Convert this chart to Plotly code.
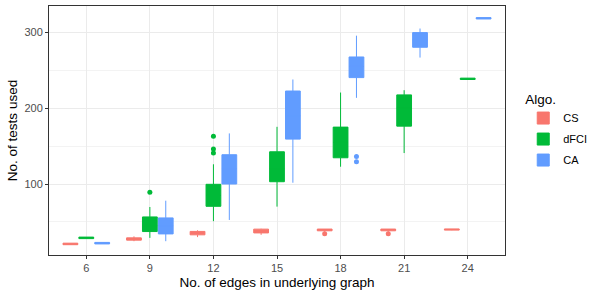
import plotly.graph_objects as go

edges = [6, 9, 12, 15, 18, 21, 24]
algos = ["CS", "dFCI", "CA"]
colors = {"CS": "#F8766D", "dFCI": "#00BA38", "CA": "#619CFF"}

# five-number summaries
cs_lower = [20, 24.6, 30, 33, 37, 37, 39]
cs_q1 = [20, 26, 33, 35.5, 38.3, 38.3, 39.2]
cs_median = [21, 27.5, 35, 38, 40, 40, 40]
cs_q3 = [22, 29, 37.5, 40.5, 40.6, 40.6, 40.8]
cs_upper = [22, 31, 39, 41, 40.6, 40.6, 40.8]
cs_outliers = [[], [], [], [], [34.5], [34.5], []]

dfci_lower = [28, 29, 51, 70.2, 122.8, 140.8, 237.8]
dfci_q1 = [28, 37.3, 70.6, 103, 134.6, 176.3, 237.8]
dfci_median = [29, 45, 85, 120, 155, 200, 238.6]
dfci_q3 = [30, 56.6, 99.6, 142.5, 175, 217.5, 239.6]
dfci_upper = [30, 69.7, 126, 175.4, 220.6, 223.7, 239.6]
dfci_outliers = [[], [89], [141, 146, 163], [], [], [], []]

ca_lower = [21, 24.6, 52.6, 101.7, 213.6, 266.7, 317.6]
ca_q1 = [21, 34.2, 100, 159.2, 240.3, 280.3, 317.6]
ca_median = [22, 45, 120, 190, 255, 290, 318.4]
ca_q3 = [23, 55.3, 138.6, 222.6, 267.5, 299.6, 319.4]
ca_upper = [23, 78, 166.7, 237.8, 295.6, 305, 319.4]
ca_outliers = [[], [], [], [], [129.4, 136.4], [], []]

stats = {
    "CS": (cs_lower, cs_q1, cs_median, cs_q3, cs_upper, cs_outliers),
    "dFCI": (dfci_lower, dfci_q1, dfci_median, dfci_q3, dfci_upper, dfci_outliers),
    "CA": (ca_lower, ca_q1, ca_median, ca_q3, ca_upper, ca_outliers),
}

x_ticks = [6, 9, 12, 15, 18, 21, 24]
y_ticks = [100, 200, 300]

font = "Liberation Sans, Arial, sans-serif"

fig = go.Figure()
for a in algos:
    lo, q1, med, q3, up, outl = stats[a]
    # per-box sample points: the five summary values plus the outliers
    samples = [[lo[i], q1[i], med[i], q3[i], up[i]] + list(outl[i]) for i in range(len(edges))]
    fig.add_trace(go.Box(
        name=a,
        legendgroup=a,
        x=edges,
        y=samples,
        q1=q1, median=med, q3=q3,
        lowerfence=lo, upperfence=up,
        boxpoints="outliers",
        fillcolor=colors[a],
        line=dict(color=colors[a], width=1),
        marker=dict(color=colors[a], size=5),
        whiskerwidth=0,
        offsetgroup=a,
    ))

grid = "#ebebeb"
fig.update_layout(
    width=598, height=296,
    margin=dict(l=49, r=88, t=6, b=41),
    paper_bgcolor="white", plot_bgcolor="white",
    boxmode="group", boxgap=0.25, boxgroupgap=0.07,
    font=dict(family=font, color="black"),
    legend=dict(
        title=dict(text="Algo.", font=dict(size=13.5)),
        font=dict(size=11),
        x=1.04, xanchor="left", y=0.50, yanchor="middle",
        tracegroupgap=2,
    ),
    xaxis=dict(
        range=[4.24, 25.76],
        tickvals=x_ticks, ticktext=[str(v) for v in x_ticks],
        showgrid=True, gridcolor=grid, gridwidth=1,
        zeroline=False,
        showline=True, linecolor="#333333", linewidth=1, mirror=True,
        ticks="outside", ticklen=3, tickcolor="#333333",
        tickfont=dict(size=11, color="#4d4d4d"),
        title=dict(text="No. of edges in underlying graph", font=dict(size=13.5), standoff=4),
    ),
    yaxis=dict(
        range=[6.4, 334.7],
        tickvals=y_ticks,
        showgrid=True, gridcolor=grid, gridwidth=1,
        minor=dict(tickvals=[50, 150, 250], showgrid=True, gridcolor="#f3f3f3", gridwidth=1),
        zeroline=False,
        showline=True, linecolor="#333333", linewidth=1, mirror=True,
        ticks="outside", ticklen=3, tickcolor="#333333",
        tickfont=dict(size=11, color="#4d4d4d"),
        title=dict(text="No. of tests used", font=dict(size=13.5), standoff=3),
    ),
)

fig.write_html("out.html", config={"displayModeBar": False},
               post_script="document.body.style.margin='0';")
